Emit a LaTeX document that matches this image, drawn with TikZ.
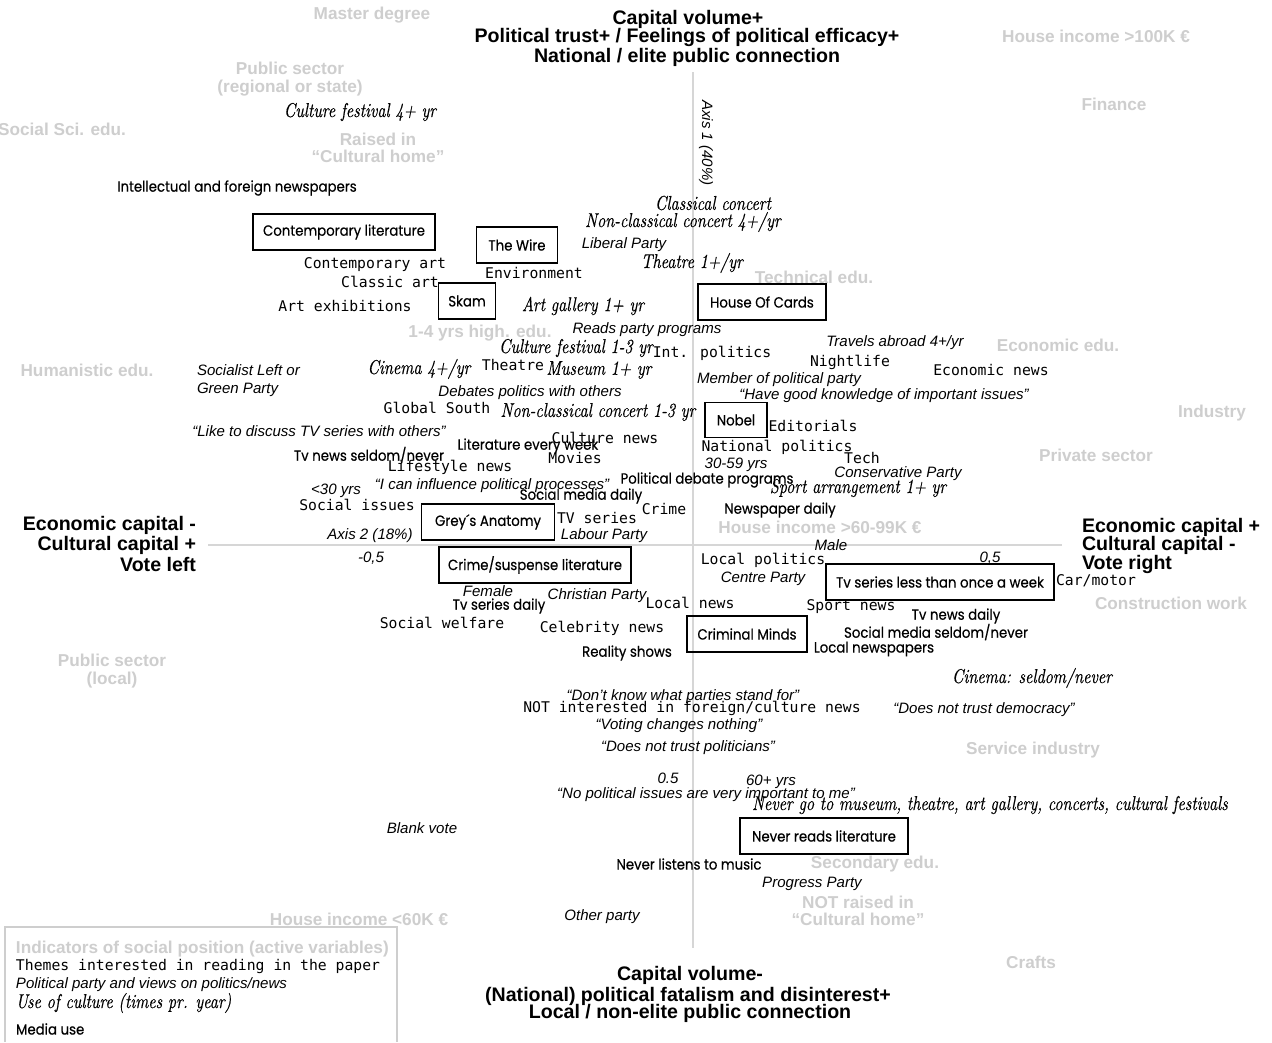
\documentclass[tikz,border=0pt]{standalone}
\usepackage{fontspec}
\newfontfamily\arialf{Liberation Sans}
\newfontfamily\monof{DejaVu Sans Mono}
\newfontfamily\futf{Poppins}[FakeStretch=0.9, FakeBold=0.4]
\newfontfamily\culf{lmroman10-italic.otf}[FakeStretch=0.8, FakeBold=0.4]
\definecolor{lgray}{RGB}{206,206,206}
\definecolor{axgray}{RGB}{214,214,214}
\tikzset{
  gl/.style={font=\arialf\bfseries\fontsize{17.2}{17.4}\selectfont, text=lgray, align=center, yshift=-1pt},
  ttl/.style={font=\arialf\bfseries\fontsize{19.6}{19.6}\selectfont, yshift=-2pt},
  itx/.style={font=\arialf\itshape\fontsize{15.05}{17.5}\selectfont, yshift=-2pt},
  mono/.style={font=\monof\fontsize{14.75}{17}\selectfont},
  fut/.style={font=\futf\fontsize{14.8}{16}\selectfont},
  bx/.style={fut, draw, line width=1.8pt, minimum height=36pt},
  cul/.style={font=\culf\fontsize{20}{22}\selectfont},
  axis/.style={draw=axgray, line width=2pt}
}
\begin{document}
\begin{tikzpicture}[x=1pt,y=-1pt, every node/.style={inner sep=0pt, outer sep=0pt}]
\useasboundingbox (0,0) rectangle (1272,1042);
\fill[white] (0,0) rectangle (1272,1042);
% axes
\coordinate (vt) at (693,72);
\coordinate (vb) at (693,948);
\coordinate (hl) at (208,545);
\coordinate (hr) at (1062,545);
\draw[axis] (vt) -- (vb);
\draw[axis] (hl) -- (hr);
% legend frame
\coordinate (lg1) at (5,1042);
\coordinate (lg2) at (5,927);
\coordinate (lg3) at (397,927);
\coordinate (lg4) at (397,1042);
\draw[draw=lgray, line width=1.8pt] (lg1) -- (lg2) -- (lg3) -- (lg4);

% titles
\node[ttl] (t1) at (688,17) {Capital volume+};
\node[ttl] (t2) at (687,35) {Political trust+ / Feelings of political efficacy+};
\node[ttl] (t3) at (687,55) {National / elite public connection};
\node[ttl] (b1) at (690,973) {Capital volume-};
\node[ttl] (b2) at (688,994) {(National) political fatalism and disinterest+};
\node[ttl] (b3) at (690,1011) {Local / non-elite public connection};
\node[ttl, anchor=east] (l1) at (196,523) {Economic capital -};
\node[ttl, anchor=east] (l2) at (196,543) {Cultural capital +};
\node[ttl, anchor=east] (l3) at (196,562) {Vote left};
\node[ttl, anchor=west] (r1) at (1082,525) {Economic capital +};
\node[ttl, anchor=west] (r2) at (1082,543) {Cultural capital -};
\node[ttl, anchor=west] (r3) at (1082,562) {Vote right};

% grey labels
\node[gl] (g1) at (372,14) {Master degree};
\node[gl] (g2) at (290,78) {Public sector\\(regional or state)};
\node[gl] (g3) at (62,128) {Social Sci. edu.};
\node[gl] (g4) at (378,147) {Raised in\\“Cultural home”};
\node[gl] (g5) at (1096,35) {House income >100K €};
\node[gl] (g6) at (1114,103) {Finance};
\node[gl] (g7) at (814,276) {Technical edu.};
\node[gl] (g8) at (480,332) {1-4 yrs high. edu.};
\node[gl] (g9) at (87,369) {Humanistic edu.};
\node[gl] (g10) at (1058,344) {Economic edu.};
\node[gl] (g11) at (1212,412) {Industry};
\node[gl] (g12) at (1096,454) {Private sector};
\node[gl] (g13) at (820,526) {House income >60-99K €};
\node[gl] (g14) at (1171,602) {Construction work};
\node[gl] (g15) at (112,670) {Public sector\\(local)};
\node[gl] (g16) at (1033,749) {Service industry};
\node[gl] (g17) at (875,863) {Secondary edu.};
\node[gl] (g18) at (858,910) {NOT raised in\\“Cultural home”};
\node[gl] (g19) at (359,918) {House income <60K €};
\node[gl] (g20) at (1031,961) {Crafts};

% axis labels
\node[itx, rotate=-90] (ax1) at (706,141) {Axis 1 (40\%)};
\node[itx] (ax2) at (370,534) {Axis 2 (18\%)};
\node[itx] (m05) at (371,556) {-0,5};
\node[itx] (p05) at (990,556) {0,5};
\node[itx] (v05) at (668,776) {0.5};

% italic sans: parties and views
\node[itx] (i1) at (624,243) {Liberal Party};
\node[itx] (i2) at (647,328) {Reads party programs};
\node[itx] (i3) at (895,341) {Travels abroad 4+/yr};
\node[itx, anchor=west, align=left] (i4) at (197,378.5) {Socialist Left or\\Green Party};
\node[itx] (i5) at (779,378) {Member of political party};
\node[itx] (i6) at (530,391) {Debates politics with others};
\node[itx] (i7) at (884,394) {“Have good knowledge of important issues”};
\node[itx] (i8) at (319,429) {“Like to discuss TV series with others”};
\node[itx] (i9) at (736,463) {30-59 yrs};
\node[itx] (i10) at (898,472) {Conservative Party};
\node[itx] (i11) at (492,484) {“I can influence political processes”};
\node[itx] (i12) at (336,489) {<30 yrs};
\node[itx] (i13) at (604,534) {Labour Party};
\node[itx] (i14) at (831,543) {Male};
\node[itx] (i15) at (763,577) {Centre Party};
\node[itx] (i16) at (488,589) {Female};
\node[itx] (i17) at (597,594) {Christian Party};
\node[itx] (i18) at (683,695) {“Don’t know what parties stand for”};
\node[itx] (i19) at (984,708) {“Does not trust democracy”};
\node[itx] (i20) at (679,724) {“Voting changes nothing”};
\node[itx] (i21) at (688,746) {“Does not trust politicians”};
\node[itx] (i22) at (771,780) {60+ yrs};
\node[itx] (i23) at (706,793) {“No political issues are very important to me”};
\node[itx] (i24) at (422,826) {Blank vote};
\node[itx] (i25) at (812,882) {Progress Party};
\node[itx] (i26) at (602,915) {Other party};

% mono: themes
\node[mono] (m1) at (375,265) {Contemporary art};
\node[mono] (m2) at (390,282) {Classic art};
\node[mono] (m3) at (534,273) {Environment};
\node[mono] (m4) at (345,306) {Art exhibitions};
\node[mono] (m5) at (712,353) {Int. politics};
\node[mono] (m6) at (850,362) {Nightlife};
\node[mono] (m7) at (991,370) {Economic news};
\node[mono] (m8) at (513,365) {Theatre};
\node[mono] (m9) at (437,408) {Global South};
\node[mono] (m10) at (813,426) {Editorials};
\node[mono] (m11) at (605,438) {Culture news};
\node[mono] (m12) at (777,447) {National politics};
\node[mono] (m13) at (575,458) {Movies};
\node[mono] (m14) at (450,467) {Lifestyle news};
\node[mono] (m15) at (862,458) {Tech};
\node[mono] (m16) at (357,505) {Social issues};
\node[mono] (m17) at (664,509) {Crime};
\node[mono] (m18) at (597,518) {TV series};
\node[mono] (m19) at (763,560) {Local politics};
\node[mono] (m20) at (1096,581) {Car/motor};
\node[mono] (m21) at (690,603) {Local news};
\node[mono] (m22) at (851,607) {Sport news};
\node[mono] (m23) at (442,623) {Social welfare};
\node[mono] (m24) at (602,628) {Celebrity news};
\node[mono] (m25) at (692,708) {NOT interested in foreign/culture news};

% media use
\node[fut] (f1) at (237,188) {Intellectual and foreign newspapers};
\node[fut] (f2) at (528,446) {Literature every week};
\node[fut] (f3) at (369,455) {Tv news seldom/never};
\node[fut] (f4) at (707,480) {Political debate programs};
\node[fut] (f5) at (581,496) {Social media daily};
\node[fut] (f6) at (780,510) {Newspaper daily};
\node[fut] (f7) at (499,606) {Tv series daily};
\node[fut] (f8) at (956,616) {Tv news daily};
\node[fut] (f9) at (936,632) {Social media seldom/never};
\node[fut] (f10) at (874,649) {Local newspapers};
\node[fut] (f11) at (627,653) {Reality shows};
\node[fut] (f12) at (689,864) {Never listens to music};

% boxed media
\node[bx, minimum width=182pt] (x1) at (344,232) {Contemporary literature};
\node[bx, minimum width=81pt] (x2) at (517,245) {The Wire};
\node[bx, minimum width=57pt] (x3) at (467,301) {Skam};
\node[bx, minimum width=128pt] (x4) at (762,302) {House Of Cards};
\node[bx, minimum width=62pt, minimum height=35pt] (x5) at (736,420) {Nobel};
\node[bx, minimum width=133pt] (x6) at (488,522) {Grey´s Anatomy};
\node[bx, minimum width=192pt] (x7) at (535,565) {Crime/suspense literature};
\node[bx, minimum width=228pt] (x8) at (940,582) {Tv series less than once a week};
\node[bx, minimum width=120pt] (x9) at (747,634) {Criminal Minds};
\node[bx, minimum width=168pt] (x10) at (824,836) {Never reads literature};

% use of culture
\node[cul] (c1) at (360,112) {Culture festival 4+ yr};
\node[cul] (c2) at (713,203) {Classical concert};
\node[cul] (c3) at (683,222) {Non-classical concert 4+/yr};
\node[cul] (c4) at (692,263) {Theatre 1+/yr};
\node[cul] (c5) at (583,306) {Art gallery 1+ yr};
\node[cul] (c6) at (576,348) {Culture festival 1-3 yr};
\node[cul] (c7) at (419,369) {Cinema 4+/yr};
\node[cul] (c8) at (599,370) {Museum 1+ yr};
\node[cul] (c9) at (598,412) {Non-classical concert 1-3 yr};
\node[cul] (c10) at (858,488) {Sport arrangement 1+ yr};
\node[cul] (c11) at (1032,678) {Cinema: seldom/never};
\node[cul] (c12) at (990,805) {Never go to museum, theatre, art gallery, concerts, cultural festivals};

% legend
\node[gl, anchor=west] (lgt) at (16,948) {Indicators of social position (active variables)};
\node[mono, anchor=west] (lgm) at (16,966) {Themes interested in reading in the paper};
\node[itx, anchor=west] (lgi) at (16,983) {Political party and views on politics/news};
\node[cul, anchor=west] (lgc) at (16,1003) {Use of culture (times pr. year)};
\node[fut, anchor=west] (lgf) at (16,1029) {Media use};
\end{tikzpicture}
\end{document}
